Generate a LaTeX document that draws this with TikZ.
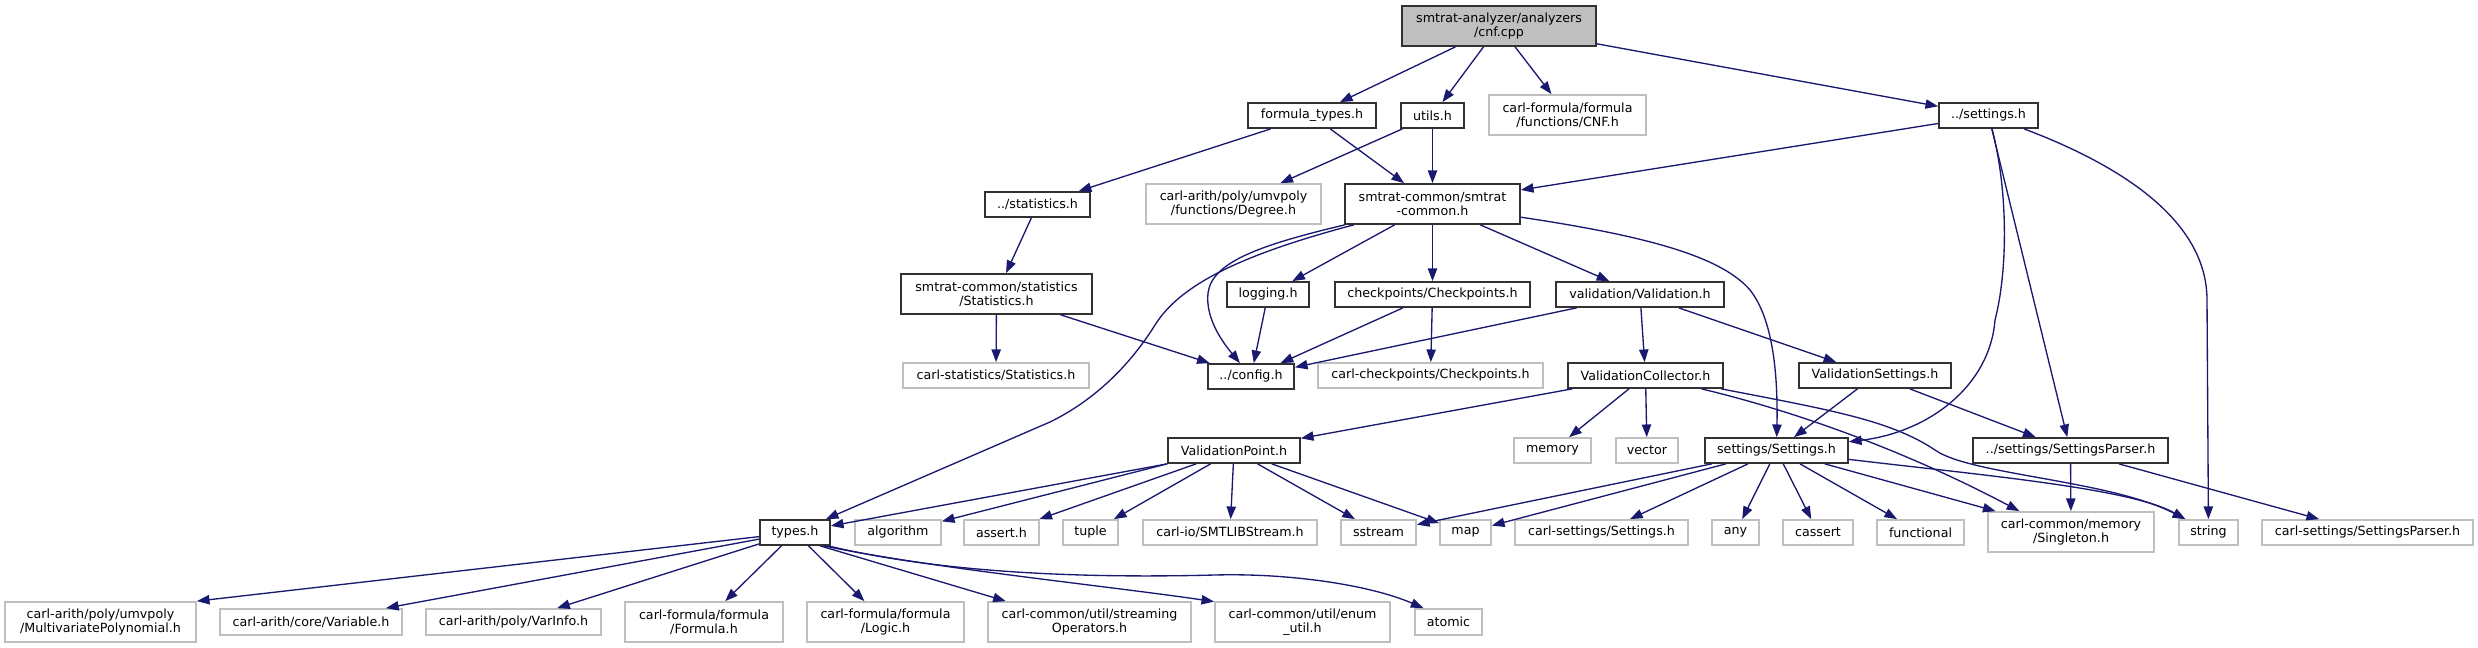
\documentclass[tikz,border=0pt]{standalone}
\usepackage{fontspec}
\setmainfont{DejaVu Sans}
\usetikzlibrary{arrows.meta}
\definecolor{edgec}{RGB}{25,25,112}
\definecolor{g75}{RGB}{191,191,191}
\definecolor{bord}{RGB}{50,50,50}
\newcommand{\nbox}[7]{\node[#1, minimum width={(#4-#3)*0.75pt}, minimum height={(#6-#5)*0.75pt}] (#2) at ({(#3+#4)/2},{(#5+#6)/2}) {#7};}
\tikzset{
  basebox/.style={rectangle, inner sep=0pt, align=center, line width=1.3pt, font=\fontsize{9.5}{10.5}\selectfont},
  nd/.style={basebox, draw=bord, fill=white},
  ext/.style={basebox, draw=g75, fill=white},
  root/.style={basebox, draw=bord, fill=g75},
  conn/.style={draw=edgec, line width=1pt, -{Triangle[length=9.5pt,width=7pt]}, fill=none}
}
\begin{document}
\begin{tikzpicture}[x=0.75pt,y=-0.75pt]
\useasboundingbox (0,0) rectangle (2478,648);
% row 0
\nbox{root}{cnf}{1402}{1596}{6}{46}{smtrat-analyzer/analyzers\\/cnf.cpp}
% row 1
\nbox{nd}{ft}{1248}{1376}{103}{128}{formula\_types.h}
\nbox{nd}{ut}{1401}{1464}{103}{128}{utils.h}
\nbox{ext}{cnfh}{1489}{1646}{95}{135}{carl-formula/formula\\/functions/CNF.h}
\nbox{nd}{set}{1939}{2038}{103}{128}{../settings.h}
% row 2
\nbox{nd}{stat}{985}{1090}{192}{217}{../statistics.h}
\nbox{ext}{deg}{1146}{1321}{184}{224}{carl-arith/poly/umvpoly\\/functions/Degree.h}
\nbox{nd}{sc}{1345}{1520}{184}{224}{smtrat-common/smtrat\\-common.h}
% row 3
\nbox{nd}{sstat}{901}{1092}{274}{314}{smtrat-common/statistics\\/Statistics.h}
\nbox{nd}{log}{1227}{1309}{282}{307}{logging.h}
\nbox{nd}{chk}{1335}{1530}{282}{307}{checkpoints/Checkpoints.h}
\nbox{nd}{val}{1556}{1724}{282}{307}{validation/Validation.h}
% row 4
\nbox{ext}{cstat}{903}{1089}{363}{388}{carl-statistics/Statistics.h}
\nbox{nd}{cfg}{1208}{1294}{364}{389}{../config.h}
\nbox{ext}{cchk}{1318}{1543}{363}{388}{carl-checkpoints/Checkpoints.h}
\nbox{nd}{vc}{1568}{1723}{363}{388}{ValidationCollector.h}
\nbox{nd}{vs}{1799}{1951}{363}{388}{ValidationSettings.h}
% row 5
\nbox{nd}{vp}{1168}{1300}{438}{463}{ValidationPoint.h}
\nbox{ext}{mem}{1514}{1591}{438}{463}{memory}
\nbox{ext}{vec}{1616}{1678}{438}{463}{vector}
\nbox{nd}{sh}{1705}{1848}{438}{463}{settings/Settings.h}
\nbox{nd}{sp}{1973}{2168}{438}{463}{../settings/SettingsParser.h}
% row 6
\nbox{nd}{types}{760}{830}{520}{545}{types.h}
\nbox{ext}{alg}{855}{941}{520}{545}{algorithm}
\nbox{ext}{asrt}{964}{1039}{520}{545}{assert.h}
\nbox{ext}{tup}{1063}{1118}{520}{545}{tuple}
\nbox{ext}{smtlib}{1143}{1317}{520}{545}{carl-io/SMTLIBStream.h}
\nbox{ext}{sstr}{1341}{1416}{520}{545}{sstream}
\nbox{ext}{map}{1440}{1491}{520}{545}{map}
\nbox{ext}{csset}{1515}{1688}{520}{545}{carl-settings/Settings.h}
\nbox{ext}{any}{1712}{1759}{520}{545}{any}
\nbox{ext}{cass}{1783}{1853}{520}{545}{cassert}
\nbox{ext}{func}{1877}{1964}{520}{545}{functional}
\nbox{ext}{sing}{1988}{2154}{512}{552}{carl-common/memory\\/Singleton.h}
\nbox{ext}{str}{2179}{2238}{520}{545}{string}
\nbox{ext}{cssp}{2262}{2473}{520}{545}{carl-settings/SettingsParser.h}
% row 7
\nbox{ext}{mp}{5}{196}{602}{642}{carl-arith/poly/umvpoly\\/MultivariatePolynomial.h}
\nbox{ext}{var}{220}{402}{609}{635}{carl-arith/core/Variable.h}
\nbox{ext}{vi}{426}{601}{609}{635}{carl-arith/poly/VarInfo.h}
\nbox{ext}{form}{625}{783}{602}{642}{carl-formula/formula\\/Formula.h}
\nbox{ext}{logic}{807}{964}{602}{642}{carl-formula/formula\\/Logic.h}
\nbox{ext}{stream}{988}{1191}{602}{642}{carl-common/util/streaming\\Operators.h}
\nbox{ext}{enum}{1215}{1390}{602}{642}{carl-common/util/enum\\\_util.h}
\nbox{ext}{atom}{1415}{1482}{609}{635}{atomic}
% edges
\draw[conn] (cnf) -- (ft);
\draw[conn] (cnf) -- (ut);
\draw[conn] (cnf) -- (cnfh);
\draw[conn] (cnf) -- (set);
\draw[conn] (ft) -- (stat);
\draw[conn] (ft) -- (sc);
\draw[conn] (ut) -- (deg);
\draw[conn] (ut) -- (sc);
\draw[conn] (set) -- (sc);
\draw[conn] (set) .. controls (2008,190) and (2008,270) .. (1995,320) .. controls (1990,385) and (1930,432) .. (sh);
\draw[conn] (set) -- (sp);
\draw[conn] (set) .. controls (2120,165) and (2207,220) .. (2207,300) -- (str);
\draw[conn] (sc) -- (log);
\draw[conn] (sc) -- (chk);
\draw[conn] (sc) -- (val);
\draw[conn] (sc) .. controls (1640,235) and (1720,255) .. (1750,290) .. controls (1772,318) and (1778,370) .. (sh);
\draw[conn] (sc) .. controls (1240,255) and (1180,285) .. (1155,325) .. controls (1130,365) and (1095,400) .. (1050,422) -- (types);
\draw[conn] (sc) .. controls (1260,245) and (1212,262) .. (1208,293) .. controls (1205,320) and (1225,345) .. (cfg);
\draw[conn] (stat) -- (sstat);
\draw[conn] (sstat) -- (cstat);
\draw[conn] (sstat) -- (cfg);
\draw[conn] (log) -- (cfg);
\draw[conn] (chk) -- (cfg);
\draw[conn] (chk) -- (cchk);
\draw[conn] (val) -- (cfg);
\draw[conn] (val) -- (vc);
\draw[conn] (val) -- (vs);
\draw[conn] (vc) -- (vp);
\draw[conn] (vc) -- (mem);
\draw[conn] (vc) -- (vec);
\draw[conn] (vc) .. controls (1790,410) and (1900,448) .. (sing.158.6);
\draw[conn] (vc.-10) .. controls (1830,410) and (1890,420) .. (1935,450) .. controls (1970,475) and (2110,480) .. (str.150);
\draw[conn] (vs) -- (sh);
\draw[conn] (vs) -- (sp);
\draw[conn] (vp.south west) -- (types);
\draw[conn] (vp.south west) -- (alg);
\draw[conn] (vp) -- (asrt);
\draw[conn] (vp) -- (tup);
\draw[conn] (vp) -- (smtlib);
\draw[conn] (vp) -- (sstr);
\draw[conn] (vp) -- (map);
\draw[conn] (sh) -- (sstr);
\draw[conn] (sh) -- (map);
\draw[conn] (sh) -- (csset);
\draw[conn] (sh) -- (any);
\draw[conn] (sh) -- (cass);
\draw[conn] (sh) -- (func);
\draw[conn] (sh) -- (sing);
\draw[conn] (sh.-7.6) .. controls (1980,475) and (2130,488) .. (str.150);
\draw[conn] (sp) -- (sing);
\draw[conn] (sp) -- (cssp);
\draw[conn] (types) -- (mp.north east);
\draw[conn] (types) -- (var);
\draw[conn] (types) -- (vi);
\draw[conn] (types) -- (form);
\draw[conn] (types) -- (logic);
\draw[conn] (types.-28) -- (stream.166.5);
\draw[conn] (types.-25) .. controls (930,568) and (1100,585) .. (enum.167.7);
\draw[conn] (types.-22) .. controls (950,575) and (1100,578) .. (1215,575) .. controls (1290,573) and (1370,585) .. (atom.151);
\end{tikzpicture}
\end{document}
